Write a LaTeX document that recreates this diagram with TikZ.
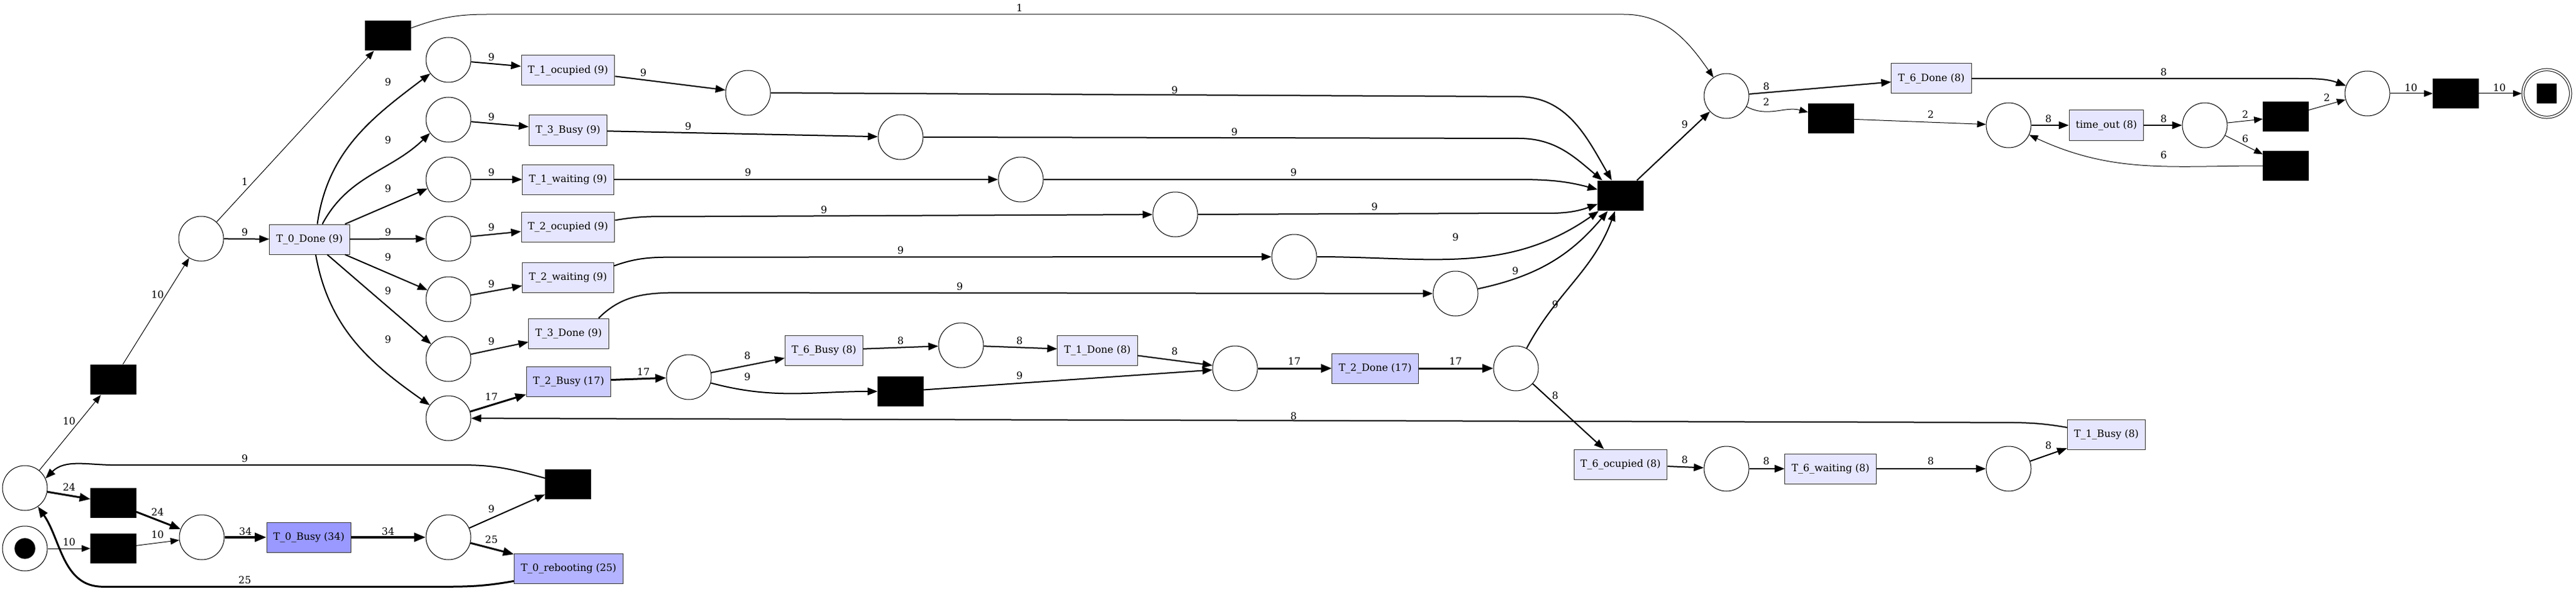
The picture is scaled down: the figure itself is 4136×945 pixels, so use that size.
\documentclass[tikz,border=0pt]{standalone}
\usepackage{fontspec}
\setmainfont{DejaVu Serif}
\usetikzlibrary{arrows.meta}

\definecolor{lowfill}{RGB}{230,230,255}
\definecolor{midfill}{RGB}{204,204,255}
\definecolor{highfill}{RGB}{179,179,255}
\definecolor{topfill}{RGB}{153,153,255}
\newcommand{\netfont}{\fontsize{12}{14}\selectfont}

\tikzset{
    place/.style = {circle, draw, line width = 0.75pt, minimum size = 54pt, inner sep = 0pt},
    trans/.style = {rectangle, draw = black!80, line width = 0.75pt, fill = #1,
        minimum height = 36pt, inner xsep = 8pt, inner ysep = 2pt, font = \netfont},
    trans/.default = lowfill,
    silent/.style = {rectangle, fill = black, minimum width = 55pt, minimum height = 36.5pt, inner sep = 0pt},
    weight/.style = {font = \netfont, inner sep = 1pt},
    arcthin/.style = {-{Triangle[length = 10.5pt, width = 8pt]}, line width = 0.75pt},
    arcmid/.style = {-{Triangle[length = 12pt, width = 9pt]}, line width = 1.5pt},
    arcthick/.style = {-{Triangle[length = 13pt, width = 10pt]}, line width = 2.25pt},
    archeavy/.style = {-{Triangle[length = 14pt, width = 10.5pt]}, line width = 3pt}
}

\begin{document}
\begin{tikzpicture}[x = 0.75pt, y = -0.75pt]
        \useasboundingbox (0, 0) rectangle (4136, 945);
        % places
        \node [place] (pSrc) at (40, 880) {};
        \node [circle, fill = black, minimum size = 25pt, inner sep = 0pt] (token) at (pSrc) {};
        \node [place] (pLeft) at (40, 783) {};
        \node [place] (pUp) at (323, 383) {};
        \node [place] (pMid) at (324, 862) {};
        \node [place] (pBusy) at (720, 862) {};
        \node [place] (c1) at (720, 96) {};
        \node [place] (c2) at (720, 192) {};
        \node [place] (c3) at (720, 288) {};
        \node [place] (c4) at (720, 383) {};
        \node [place] (c5) at (720, 480) {};
        \node [place] (c6) at (720, 576) {};
        \node [place] (c7) at (720, 671) {};
        \node [place] (q1) at (1201, 149) {};
        \node [place] (q2) at (1446, 220) {};
        \node [place] (q3) at (1639, 288) {};
        \node [place] (q4) at (1887, 344) {};
        \node [place] (q5) at (2078, 412) {};
        \node [place] (q6) at (2337, 471) {};
        \node [place] (r1) at (1106, 605) {};
        \node [place] (r2) at (1543, 554) {};
        \node [place] (r3) at (1983, 591) {};
        \node [place] (r4) at (2434, 591) {};
        \node [place] (s1) at (2772, 752) {};
        \node [place] (s2) at (3225, 752) {};
        \node [place] (u1) at (2772, 154) {};
        \node [place] (u2) at (3225, 201) {};
        \node [place] (u3) at (3540, 201) {};
        \node [place] (u4) at (3801, 150) {};
        \node [place, double, double distance = 2pt, minimum size = 57.3pt, outer sep = 1.5pt] (pEnd) at (4089, 150) {};
        \node [fill = black, minimum size = 24pt, inner sep = 0pt] (endMark) at (pEnd) {};
        % transitions
        \node [trans = topfill] (tBusy0) at (496, 862) {T\_0\_Busy (34)};
        \node [trans = highfill] (tReboot0) at (913, 912) {T\_0\_rebooting (25)};
        \node [trans] (tDone0) at (497, 384) {T\_0\_Done (9)};
        \node [trans] (tOcc1) at (912, 113) {T\_1\_ocupied (9)};
        \node [trans] (tBusy3) at (912, 209) {T\_3\_Busy (9)};
        \node [trans] (tWait1) at (912, 288) {T\_1\_waiting (9)};
        \node [trans] (tOcc2) at (912, 364) {T\_2\_ocupied (9)};
        \node [trans] (tWait2) at (912, 445) {T\_2\_waiting (9)};
        \node [trans] (tDone3) at (913, 535) {T\_3\_Done (9)};
        \node [trans = midfill] (tBusy2) at (913, 612) {T\_2\_Busy (17)};
        \node [trans] (tBusy6) at (1323, 562) {T\_6\_Busy (8)};
        \node [trans] (tDone1) at (1762, 562) {T\_1\_Done (8)};
        \node [trans = midfill] (tDone2) at (2208, 591) {T\_2\_Done (17)};
        \node [trans] (tOcc6) at (2602, 745) {T\_6\_ocupied (8)};
        \node [trans] (tWait6) at (2939, 752) {T\_6\_waiting (8)};
        \node [trans] (tBusy1) at (3382, 697) {T\_1\_Busy (8)};
        \node [trans] (tDone6) at (3101, 126) {T\_6\_Done (8)};
        \node [trans] (tOut) at (3382, 201) {time\_out (8)};
        \node [silent] (tauA) at (182, 609) {};
        \node [silent] (tauB) at (182, 807) {};
        \node [silent] (tauC) at (182, 880) {};
        \node [silent] (tauD) at (912, 777) {};
        \node [silent] (tauE) at (623, 57) {};
        \node [silent] (tauF) at (1446, 628) {};
        \node [silent] (tauG) at (2602, 314) {};
        \node [silent] (tauH) at (2940, 190) {};
        \node [silent] (tauI) at (3670, 187) {};
        \node [silent] (tauJ) at (3670, 266) {};
        \node [silent] (tauK) at (3943, 150) {};
        % arcs
        \draw [arcthin] (pSrc) -- (tauC);
        \draw [arcthin] (tauC) -- (pMid);
        \draw [arcthick] (pLeft) -- (tauB);
        \draw [arcthick] (tauB) -- (pMid);
        \draw [archeavy] (pMid) -- (tBusy0);
        \draw [archeavy] (tBusy0) -- (pBusy);
        \draw [arcmid] (pBusy) -- (tauD);
        \draw [arcthick] (pBusy) -- (tReboot0);
        \draw [arcmid] (tauD.165) to[out = 165, in = 0] ++(-130, -21) -- ++(-560, 0) to[out = 180, in = 45] (pLeft.25);
        \draw [arcthick] (tReboot0.193) to[out = 190, in = 0] ++(-110, 9) -- ++(-550, 0) to[out = 180, in = -55] (pLeft);
        \draw [arcthin] (pLeft) -- (tauA);
        \draw [arcthin] (tauA) -- (pUp);
        \draw [arcthin] (pUp) -- (tauE);
        \draw [arcmid] (pUp) -- (tDone0);
        \draw [arcmid] (tDone0.63) to[out = 82, in = 217] (c1);
        \draw [arcmid] (tDone0.50) to[out = 62, in = 224] (c2.216);
        \draw [arcmid] (tDone0) -- (c3);
        \draw [arcmid] (tDone0) -- (c4);
        \draw [arcmid] (tDone0) -- (c5);
        \draw [arcmid] (tDone0) -- (c6);
        \draw [arcmid] (tDone0.-68) to[out = -80, in = 145] (c7);
        \draw [arcmid] (c1) -- (tOcc1);
        \draw [arcmid] (c2) -- (tBusy3);
        \draw [arcmid] (c3) -- (tWait1);
        \draw [arcmid] (c4) -- (tOcc2);
        \draw [arcmid] (c5) -- (tWait2);
        \draw [arcmid] (c6) -- (tDone3);
        \draw [arcthick] (c7) -- (tBusy2);
        \draw [arcmid] (tOcc1) -- (q1);
        \draw [arcmid] (tBusy3) -- (q2);
        \draw [arcmid] (tWait1) -- (q3);
        \draw [arcmid] (tOcc2.8) to[out = 10, in = 180] ++(110, -6) -- (q4);
        \draw [arcmid] (tWait2.14) to[out = 20, in = 180] ++(110, -14) -- (q5);
        \draw [arcmid] (tDone3.27) to[out = 45, in = 180] ++(135, -41) -- (q6);
        \draw [arcthick] (tBusy2) -- (r1);
        \draw [arcmid] (r1) -- (tBusy6);
        \draw [arcmid] (r1) to[out = -15, in = 180] (tauF);
        \draw [arcmid] (tBusy6) -- (r2);
        \draw [arcmid] (r2) -- (tDone1);
        \draw [arcmid] (tDone1) -- (r3);
        \draw [arcmid] (tauF) -- (r3);
        \draw [arcthick] (r3) -- (tDone2);
        \draw [arcthick] (tDone2) -- (r4);
        \draw [arcmid] (r4) to[out = 62, in = 250] (tauG);
        \draw [arcmid] (r4) -- (tOcc6);
        \draw [arcmid] (tOcc6) -- (s1);
        \draw [arcmid] (s1) -- (tWait6);
        \draw [arcmid] (tWait6) -- (s2);
        \draw [arcmid] (s2) -- (tBusy1);
        \draw [arcmid] (tBusy1.170) to[out = 170, in = 0] ++(-110, -8) -- (c7);
        \draw [arcmid] (q1.east) -- ++(1200, 6) to[out = 0, in = 120] (tauG);
        \draw [arcmid] (q2.east) -- ++(956, 2) to[out = 0, in = 140] (tauG);
        \draw [arcmid] (q3.east) -- ++(763, 0) to[out = 0, in = 165] (tauG);
        \draw [arcmid] (q4.east) -- ++(514, -2) to[out = 0, in = 200] (tauG);
        \draw [arcmid] (q5) to[out = 0, in = 215] (tauG);
        \draw [arcmid] (q6) to[out = 12, in = 230] (tauG);
        \draw [arcmid] (tauG) -- (u1);
        \draw [arcthin] (tauE.18) to[out = 20, in = 180] ++(122, -22) -- ++(1825, 0) to[out = 0, in = 125] (u1);
        \draw [arcmid] (u1) -- (tDone6);
        \draw [arcthin] (u1) to[out = -28, in = 165] (tauH);
        \draw [arcthin] (tauH) -- (u2);
        \draw [arcmid] (u2) -- (tOut);
        \draw [arcmid] (tOut) -- (u3);
        \draw [arcthin] (u3) -- (tauI);
        \draw [arcthin] (u3) -- (tauJ);
        \draw [arcthin] (tauJ.west) to[out = 180, in = -25] (u2);
        \draw [arcthin] (tauI) -- (u4);
        \draw [arcmid] (tDone6.east) -- ++(514, 0) to[out = 0, in = 160] (u4);
        \draw [arcthin] (u4) -- (tauK);
        \draw [arcthin] (tauK) -- (pEnd);
        % arc weights
        \node [weight] (w1) at (111, 870) {10};
        \node [weight] (w2) at (253, 858) {10};
        \node [weight] (w3) at (111, 782) {24};
        \node [weight] (w4) at (253, 822) {24};
        \node [weight] (w5) at (394, 853) {34};
        \node [weight] (w6) at (623, 853) {34};
        \node [weight] (w7) at (789, 817) {9};
        \node [weight] (w8) at (789, 866) {25};
        \node [weight] (w9) at (393, 736) {9};
        \node [weight] (w10) at (393, 931) {25};
        \node [weight] (w11) at (111, 676) {10};
        \node [weight] (w12) at (253, 473) {10};
        \node [weight] (w13) at (393, 292) {1};
        \node [weight] (w14) at (393, 373) {9};
        \node [weight] (w15) at (623, 132) {9};
        \node [weight] (w16) at (623, 225) {9};
        \node [weight] (w17) at (623, 303) {9};
        \node [weight] (w18) at (623, 373) {9};
        \node [weight] (w19) at (623, 413) {9};
        \node [weight] (w20) at (623, 467) {9};
        \node [weight] (w21) at (623, 545) {9};
        \node [weight] (w22) at (789, 92) {9};
        \node [weight] (w23) at (789, 188) {9};
        \node [weight] (w24) at (789, 277) {9};
        \node [weight] (w25) at (789, 365) {9};
        \node [weight] (w26) at (789, 456) {9};
        \node [weight] (w27) at (789, 548) {9};
        \node [weight] (w28) at (789, 637) {17};
        \node [weight] (w29) at (1033, 117) {9};
        \node [weight] (w30) at (1105, 203) {9};
        \node [weight] (w31) at (1201, 277) {9};
        \node [weight] (w32) at (1323, 337) {9};
        \node [weight] (w33) at (1446, 402) {9};
        \node [weight] (w34) at (1541, 460) {9};
        \node [weight] (w35) at (1033, 597) {17};
        \node [weight] (w36) at (1200, 571) {8};
        \node [weight] (w37) at (1200, 605) {9};
        \node [weight] (w38) at (1446, 547) {8};
        \node [weight] (w39) at (1637, 547) {8};
        \node [weight] (w40) at (1886, 564) {8};
        \node [weight] (w41) at (1637, 603) {9};
        \node [weight] (w42) at (2078, 580) {17};
        \node [weight] (w43) at (2337, 580) {17};
        \node [weight] (w44) at (2497, 489) {9};
        \node [weight] (w45) at (2497, 635) {8};
        \node [weight] (w46) at (2705, 738) {8};
        \node [weight] (w47) at (2836, 740) {8};
        \node [weight] (w48) at (3100, 740) {8};
        \node [weight] (w49) at (3289, 715) {8};
        \node [weight] (w50) at (2077, 668) {8};
        \node [weight] (w51) at (1886, 145) {9};
        \node [weight] (w52) at (1982, 212) {9};
        \node [weight] (w53) at (2077, 277) {9};
        \node [weight] (w54) at (2207, 332) {9};
        \node [weight] (w55) at (2337, 381) {9};
        \node [weight] (w56) at (2433, 435) {9};
        \node [weight] (w57) at (2705, 200) {9};
        \node [weight] (w58) at (1637, 13) {1};
        \node [weight] (w59) at (2836, 139) {8};
        \node [weight] (w60) at (2836, 164) {2};
        \node [weight] (w61) at (3100, 184) {2};
        \node [weight] (w62) at (3289, 191) {8};
        \node [weight] (w63) at (3474, 191) {8};
        \node [weight] (w64) at (3605, 184) {2};
        \node [weight] (w65) at (3605, 223) {6};
        \node [weight] (w66) at (3474, 249) {6};
        \node [weight] (w67) at (3736, 157) {2};
        \node [weight] (w68) at (3474, 116) {8};
        \node [weight] (w69) at (3871, 141) {10};
        \node [weight] (w70) at (4013, 141) {10};
    \end{tikzpicture}
\end{document}
